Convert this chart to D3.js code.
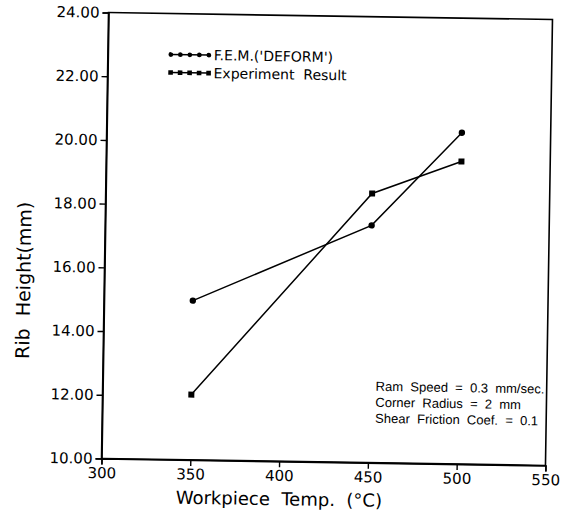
<!DOCTYPE html>
<html><head><meta charset="utf-8">
<script src="https://cdn.jsdelivr.net/npm/d3@7"></script>
<style>
html,body{margin:0;padding:0;background:#fff;}
svg text{font-family:"DejaVu Sans","Liberation Sans",sans-serif;fill:#000;white-space:pre;}
</style></head>
<body>
<svg id="c" width="569" height="515"></svg>
<script>
// ---- data ----
const temps = [350, 450, 500];
const femValues = [15.0, 17.45, 20.4];
const expValues = [12.05, 18.45, 19.5];
const xTicks = [300, 350, 400, 450, 500, 550];
const yTicks = [10, 12, 14, 16, 18, 20, 22, 24];
const seriesNames = ["F.E.M.('DEFORM')", "Experiment  Result"];
const notes = ["Ram  Speed  =  0.3  mm/sec.", "Corner  Radius  =  2  mm", "Shear  Friction  Coef.  =  0.1"];
const xTitle = "Workpiece  Temp.  (\u00B0C)";
const yTitle = "Rib  Height(mm)";

// ---- layout ----
const L = 105, R = 549, T = 16, B = 462;
const svg = d3.select("#c");
const g = svg.append("g").attr("transform", "rotate(0.9," + ((L+R)/2) + "," + ((T+B)/2) + ")");

const x = d3.scaleLinear().domain([300, 550]).range([L, R]);
const y = d3.scaleLinear().domain([10, 24]).range([B, T]);

// frame
g.append("rect").attr("x", L).attr("y", T).attr("width", R-L).attr("height", B-T)
  .attr("fill", "none").attr("stroke", "#000").attr("stroke-width", 1.6);

// axes
const xAxis = g.append("g").attr("transform", "translate(0," + B + ")")
  .call(d3.axisBottom(x).tickValues(xTicks).tickSize(6).tickPadding(3).tickFormat(d3.format("d")));
const yAxis = g.append("g").attr("transform", "translate(" + L + ",0)")
  .call(d3.axisLeft(y).tickValues(yTicks).tickSize(6).tickPadding(3).tickFormat(d3.format(".2f")));
[xAxis, yAxis].forEach(a => {
  a.select(".domain").attr("stroke", "#000").attr("stroke-width", 1.6);
  a.selectAll(".tick line").attr("stroke", "#000").attr("stroke-width", 1.4);
  a.selectAll(".tick text").style("font-size", "15px").attr("fill", "#000");
});

// titles
g.append("text").attr("x", (L+R)/2 - 44).attr("y", 506).attr("text-anchor", "middle")
  .style("font-size", "18px").text(xTitle);
g.append("text").attr("transform", "translate(31,285) rotate(-90)").attr("text-anchor", "middle")
  .style("font-size", "19px").text(yTitle);

// series
const line = d3.line().x(d => x(d[0])).y(d => y(d[1]));
const fem = temps.map((t, i) => [t, femValues[i]]);
const exp = temps.map((t, i) => [t, expValues[i]]);
[fem, exp].forEach(s => g.append("path").datum(s).attr("d", line)
  .attr("fill", "none").attr("stroke", "#000").attr("stroke-width", 1.5));
g.selectAll(".cm").data(fem).enter().append("circle")
  .attr("cx", d => x(d[0])).attr("cy", d => y(d[1])).attr("r", 3.2).attr("fill", "#000");
g.selectAll(".sm").data(exp).enter().append("rect")
  .attr("x", d => x(d[0]) - 3).attr("y", d => y(d[1]) - 3).attr("width", 6).attr("height", 6).attr("fill", "#000");

// legend
const legX0 = 168, legX1 = 206, legY = [57, 75];
seriesNames.forEach((name, i) => {
  const ly = legY[i];
  g.append("line").attr("x1", legX0).attr("x2", legX1).attr("y1", ly).attr("y2", ly)
    .attr("stroke", "#000").attr("stroke-width", 1.5);
  const pts = d3.range(5).map(k => legX0 + k * (legX1 - legX0) / 4);
  pts.forEach(px => {
    if (i === 0) g.append("circle").attr("cx", px).attr("cy", ly).attr("r", 2.4).attr("fill", "#000");
    else g.append("rect").attr("x", px - 2.3).attr("y", ly - 2.3).attr("width", 4.6).attr("height", 4.6).attr("fill", "#000");
  });
  g.append("text").attr("x", legX1 + 5).attr("y", ly + 5).style("font-size", "14px").text(name);
});

// notes
notes.forEach((n, i) => {
  g.append("text").attr("x", 378).attr("y", 390 + i * 16)
    .style("font-family", "'Liberation Sans',Arial,sans-serif").style("font-size", "13px").text(n);
});
</script>
</body></html>
